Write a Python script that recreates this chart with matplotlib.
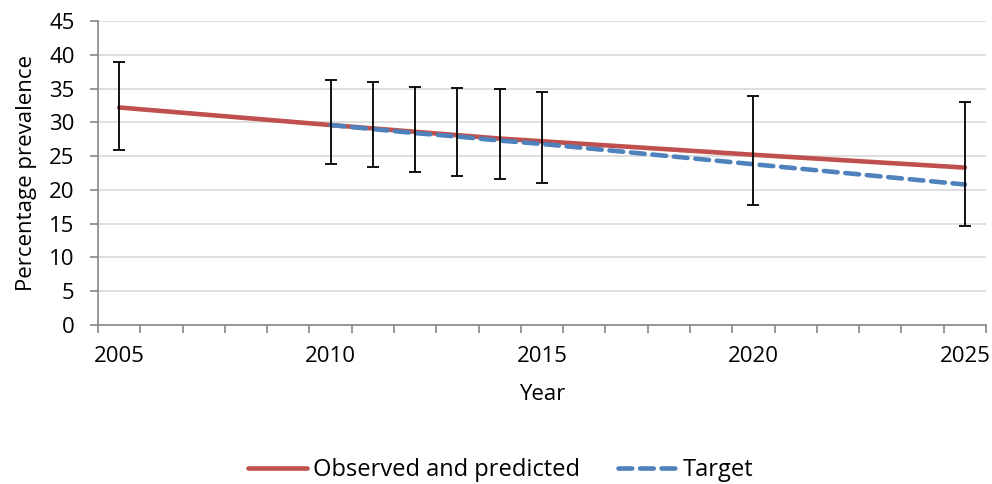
import matplotlib.pyplot as plt
import numpy as np

plt.rcParams['font.family'] = ['Open Sans', 'DejaVu Sans']

years = [2005, 2010, 2011, 2012, 2013, 2014, 2015, 2020, 2025]
observed = [32.2, 29.6, 29.1, 28.6, 28.1, 27.6, 27.2, 25.2, 23.3]
ci_low = [25.95, 23.8, 23.4, 22.7, 22.1, 21.6, 21.0, 17.7, 14.6]
ci_high = [38.9, 36.3, 35.9, 35.3, 35.1, 34.9, 34.5, 33.9, 33.0]

target_years = [2010, 2011, 2012, 2013, 2014, 2015, 2020, 2025]
target = [29.6, 29.0, 28.4, 27.9, 27.3, 26.8, 23.8, 20.8]

red = '#C0504D'
blue = '#4F81BD'
axis_grey = '#868686'
fs = 16

fig = plt.figure(figsize=(9.92, 4.84), dpi=100)
ax = fig.add_axes([0.0988, 0.3285, 0.8952, 0.6281])

ax.plot(years, observed, color=red, lw=3.3, solid_capstyle='round',
        label='Observed and predicted', zorder=3)
ax.plot(target_years, target, color=blue, lw=3.3, linestyle=(0, (3.0, 1.7)),
        dash_capstyle='round', label='Target', zorder=4)

obs = np.array(observed)
yerr = [obs - np.array(ci_low), np.array(ci_high) - obs]
ax.errorbar(years, observed, yerr=yerr, fmt='none', ecolor='black',
            elinewidth=1.3, capsize=4.6, capthick=1.3, zorder=5)

ax.set_xlim(2004.5, 2025.5)
ax.set_ylim(0, 45)
ax.set_yticks(np.arange(0, 50, 5))
ax.set_xticks([2005, 2010, 2015, 2020, 2025])
ax.set_xticks(np.arange(2004.5, 2026, 1), minor=True)
ax.tick_params(axis='x', which='major', length=0, pad=15, labelsize=fs)
ax.tick_params(axis='x', which='minor', length=5.8, color=axis_grey, width=1.2)
ax.tick_params(axis='y', length=5.8, color=axis_grey, width=1.2, labelsize=fs, pad=11)

ax.grid(axis='y', color='#d9d9d9', lw=1.2, zorder=0)
ax.set_axisbelow(True)
for s in ['top', 'right']:
    ax.spines[s].set_visible(False)
for s in ['left', 'bottom']:
    ax.spines[s].set_color(axis_grey)
    ax.spines[s].set_linewidth(1.2)

ax.set_xlabel('Year', fontsize=fs, labelpad=12)
ax.set_ylabel('Percentage prevalence', fontsize=fs, labelpad=9)

fig.legend(loc='center', bbox_to_anchor=(0.505, 0.028), ncol=2, frameon=False,
           fontsize=17, handlelength=2.5, columnspacing=1.6, handletextpad=0.25)

fig.savefig('out.png', dpi=100)
